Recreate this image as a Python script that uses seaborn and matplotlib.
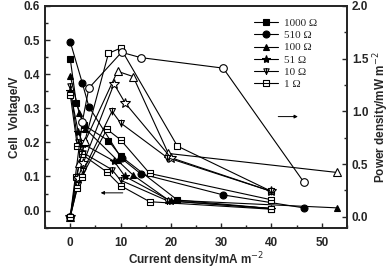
import numpy as np
import pandas as pd
import seaborn as sns
import matplotlib
matplotlib.use('Agg')
from matplotlib import pyplot as plt
from matplotlib.path import Path

sns.set_style('ticks')
plt.rcParams['font.family'] = ['Liberation Sans', 'DejaVu Sans']

# current density (mA m-2), cell voltage (V), power density (mW m-2) per resistor
labels = ['1000 Ω', '510 Ω', '100 Ω', '51 Ω', '10 Ω', '1 Ω']

cur_1000 = [0, 1.2, 2.8, 7.6, 10.0, 21.3, 40.0]
volt_1000 = [0.445, 0.316, 0.25, 0.205, 0.16, 0.031, 0.006]
pow_1000 = [0, 0.38, 0.70, 1.55, 1.60, 0.67, 0.24]

cur_510 = [0, 2.4, 3.7, 10.2, 14.0, 30.4, 46.4]
volt_510 = [0.495, 0.374, 0.305, 0.153, 0.108, 0.046, 0.008]
pow_510 = [0, 0.90, 1.22, 1.56, 1.51, 1.41, 0.33]

cur_100 = [0, 1.8, 3.0, 9.4, 12.5, 19.5, 53.0]
volt_100 = [0.395, 0.285, 0.24, 0.147, 0.104, 0.031, 0.008]
pow_100 = [0, 0.51, 0.72, 1.38, 1.33, 0.60, 0.42]

cur_51 = [0, 1.6, 2.6, 8.7, 10.9, 20.0, 40.0]
volt_51 = [0.35, 0.23, 0.195, 0.145, 0.10, 0.028, 0.006]
pow_51 = [0, 0.37, 0.51, 1.26, 1.08, 0.56, 0.24]

cur_10 = [0, 1.5, 2.5, 8.3, 10.0, 19.3, 40.0]
volt_10 = [0.365, 0.20, 0.17, 0.12, 0.089, 0.029, 0.006]
pow_10 = [0, 0.30, 0.43, 1.00, 0.89, 0.56, 0.24]

cur_1 = [0, 1.4, 2.3, 7.3, 10.0, 15.8, 40.0]
volt_1 = [0.34, 0.19, 0.165, 0.113, 0.073, 0.026, 0.004]
pow_1 = [0, 0.27, 0.38, 0.83, 0.73, 0.41, 0.16]

currents = [cur_1000, cur_510, cur_100, cur_51, cur_10, cur_1]
volts = [volt_1000, volt_510, volt_100, volt_51, volt_10, volt_1]
powers = [pow_1000, pow_510, pow_100, pow_51, pow_10, pow_1]

# odd origin-style markers
tri_bar = Path([(-1, 1), (1, 1), (0, -1), (-1, 1), (0, 1.3), (0, -1.3)],
               [Path.MOVETO, Path.LINETO, Path.LINETO, Path.CLOSEPOLY, Path.MOVETO, Path.LINETO])
sq_bar = Path([(-1, -1), (1, -1), (1, 1), (-1, 1), (-1, -1), (-1, 0), (1, 0)],
              [Path.MOVETO, Path.LINETO, Path.LINETO, Path.LINETO, Path.CLOSEPOLY, Path.MOVETO, Path.LINETO])
v_markers = ['s', 'o', '^', '*', tri_bar, sq_bar]
v_faces = ['k', 'k', 'k', 'k', 'w', 'w']
v_sizes = [4.5, 5, 5, 6, 5, 4.5]
p_markers = ['s', 'o', '^', '*', tri_bar, sq_bar]
p_sizes = [5, 5.5, 5.5, 7, 5.5, 5]

fig = plt.figure(figsize=(3.92, 2.71), dpi=100)
ax = fig.add_axes([0.115, 0.16, 0.77, 0.818])
ax2 = ax.twinx()

handles = []
for i in range(6):
    df = pd.DataFrame({'I': currents[i], 'V': volts[i], 'P': powers[i]})
    sns.lineplot(data=df, x='I', y='V', ax=ax, sort=False, estimator=None, color='k',
                 lw=0.8, marker=v_markers[i], markersize=v_sizes[i],
                 markerfacecolor=v_faces[i], markeredgecolor='k', markeredgewidth=0.8)
    handles.append(ax.lines[-1])
    sns.lineplot(data=df, x='I', y='P', ax=ax2, sort=False, estimator=None, color='k',
                 lw=0.8, marker=p_markers[i], markersize=p_sizes[i],
                 markerfacecolor='w', markeredgecolor='k', markeredgewidth=0.8)

ax.set_xlim(-5, 55)
ax.set_ylim(-0.05, 0.6)
ax2.set_ylim(-0.104, 2.0)
ax.set_xticks([0, 10, 20, 30, 40, 50])
ax.set_xticks(np.arange(-5, 56, 5), minor=True)
ax.set_yticks([0.0, 0.1, 0.2, 0.3, 0.4, 0.5, 0.6])
ax.set_yticks(np.arange(-0.05, 0.61, 0.05), minor=True)
ax2.set_yticks([0.0, 0.5, 1.0, 1.5, 2.0])
ax2.set_yticks(np.arange(0, 2.01, 0.25), minor=True)

for a in (ax, ax2):
    a.tick_params(which='both', direction='in', width=1, labelsize=8.5, top=False)
    a.tick_params(which='major', length=3.5)
    a.tick_params(which='minor', length=2)
    for lab in a.get_xticklabels() + a.get_yticklabels():
        lab.set_fontweight('bold')
    for sp in a.spines.values():
        sp.set_linewidth(1.3)
        sp.set_visible(True)
ax.tick_params(axis='y', right=False)
ax2.tick_params(axis='y', left=False)
ax.tick_params(axis='x', pad=7)

ax.set_xlabel('Current density/mA m$^{-2}$', fontsize=8.5, fontweight='bold', labelpad=1)
ax.set_ylabel('Cell  Voltage/V', fontsize=8.5, fontweight='bold', labelpad=2)
ax2.set_ylabel('Power density/mW m$^{-2}$', fontsize=8.5, fontweight='bold', labelpad=2)

ax.annotate('', xy=(5.5, 0.052), xytext=(11, 0.052),
            arrowprops=dict(arrowstyle='-|>', color='k', lw=0.7, mutation_scale=5))
ax2.annotate('', xy=(45.8, 0.95), xytext=(40.8, 0.95),
             arrowprops=dict(arrowstyle='-|>', color='k', lw=0.7, mutation_scale=5))

leg = ax2.legend(handles, labels, loc='upper right', bbox_to_anchor=(0.93, 0.985), frameon=False,
                 prop={'family': 'Liberation Serif', 'size': 8}, handlelength=2.2,
                 handletextpad=0.5, labelspacing=0.22, borderpad=0.3)

fig.savefig('out.png', dpi=100)
